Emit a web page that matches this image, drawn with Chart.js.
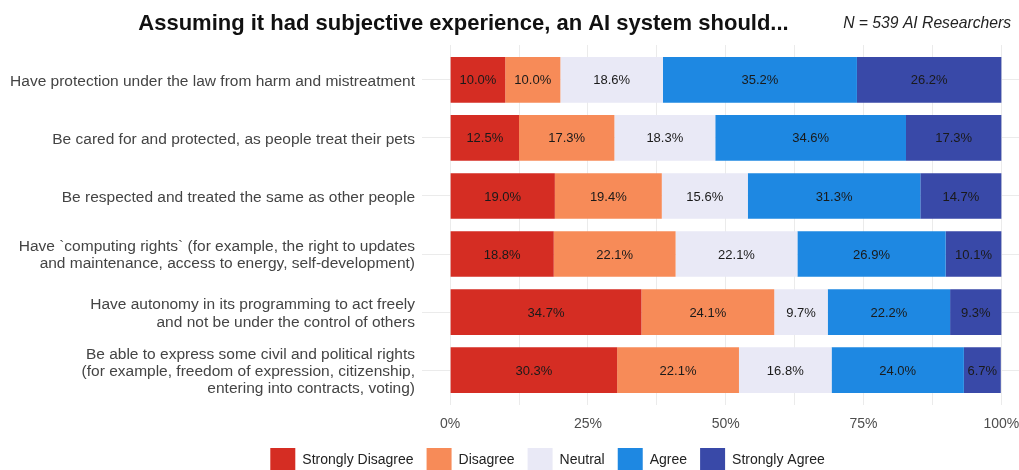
<!DOCTYPE html>
<html>
<head>
<meta charset="utf-8">
<script src="https://cdn.jsdelivr.net/npm/chart.js@4"></script>
<style>
html,body{margin:0;padding:0;background:#fff;}
#wrap{width:1019px;height:470px;position:relative;}
</style>
</head>
<body>
<div id="wrap"><canvas id="c" width="1019" height="470"></canvas></div>
<script>
const titleText = 'Assuming it had subjective experience, an AI system should...';
const noteText = 'N = 539 AI Researchers';
const categories = [
  ['Have protection under the law from harm and mistreatment'],
  ['Be cared for and protected, as people treat their pets'],
  ['Be respected and treated the same as other people'],
  ['Have `computing rights` (for example, the right to updates', 'and maintenance, access to energy, self-development)'],
  ['Have autonomy in its programming to act freely', 'and not be under the control of others'],
  ['Be able to express some civil and political rights', '(for example, freedom of expression, citizenship,', 'entering into contracts, voting)']
];
const seriesNames = ['Strongly Disagree', 'Disagree', 'Neutral', 'Agree', 'Strongly Agree'];
const seriesColors = ['#d52d23', '#f78b58', '#e9e9f6', '#1e88e2', '#3949a8'];
const stronglyDisagree = [10.0, 12.5, 19.0, 18.8, 34.7, 30.3];
const disagree         = [10.0, 17.3, 19.4, 22.1, 24.1, 22.1];
const neutral          = [18.6, 18.3, 15.6, 22.1, 9.7, 16.8];
const agree            = [35.2, 34.6, 31.3, 26.9, 22.2, 24.0];
const stronglyAgree    = [26.2, 17.3, 14.7, 10.1, 9.3, 6.7];
const xTickValues = [0, 12.5, 25, 37.5, 50, 62.5, 75, 87.5, 100];
const xLabelValues = [0, 25, 50, 75, 100];

const seriesValues = [stronglyDisagree, disagree, neutral, agree, stronglyAgree];
const FONT = "'Liberation Sans', Arial, sans-serif";

const datasets = seriesNames.map((name, s) => ({
  label: name,
  data: seriesValues[s].map((v, i) => ({ x: v, y: i })),
  backgroundColor: seriesColors[s],
  borderWidth: 0,
  barPercentage: 0.785,
  categoryPercentage: 1.0
}));

const shiftPlugin = {
  id: 'shift',
  afterLayout(chart) {
    const W = chart.width;
    const t = chart.titleBlock;
    if (t) { const c = 463.5; t.left = 2 * c - W; t.right = W; }
    const l = chart.legend;
    if (l) {
      const c = 547.5;
      const h = l.bottom - l.top;
      l.left = 2 * c - W; l.right = W;
      l.top = 435; l.bottom = 435 + h;
    }
  }
};

const notePlugin = {
  id: 'note',
  afterDraw(chart) {
    const ctx = chart.ctx;
    ctx.save();
    ctx.font = "italic 15.7px " + FONT;
    ctx.fillStyle = '#222';
    ctx.textAlign = 'right';
    ctx.textBaseline = 'middle';
    ctx.fillText(noteText, 1011, 24);
    ctx.restore();
  }
};

const valueLabelPlugin = {
  id: 'valueLabels',
  afterDatasetsDraw(chart) {
    const ctx = chart.ctx;
    ctx.save();
    ctx.font = "13px " + FONT;
    ctx.fillStyle = '#1a1a1a';
    ctx.textAlign = 'center';
    ctx.textBaseline = 'middle';
    chart.data.datasets.forEach((ds, di) => {
      const meta = chart.getDatasetMeta(di);
      meta.data.forEach((el, i) => {
        const v = seriesValues[di][i];
        ctx.fillText(v.toFixed(1) + '%', (el.x + el.base) / 2, el.y + 1);
      });
    });
    ctx.restore();
  }
};

new Chart(document.getElementById('c'), {
  type: 'bar',
  data: { datasets },
  plugins: [shiftPlugin, notePlugin, valueLabelPlugin],
  options: {
    indexAxis: 'y',
    responsive: false,
    animation: false,
    devicePixelRatio: 1,
    layout: { padding: { left: 0, right: 0, top: 0, bottom: -11 } },
    plugins: {
      title: {
        display: true,
        text: titleText,
        color: '#111',
        font: { family: FONT, size: 22, weight: 'bold', lineHeight: 1.2 },
        padding: { top: 10.5, bottom: 8.1 }
      },
      legend: {
        position: 'bottom',
        labels: {
          boxWidth: 25,
          boxHeight: 25,
          padding: 13,
          color: '#222',
          font: { family: FONT, size: 14 }
        }
      },
      tooltip: { enabled: false }
    },
    scales: {
      x: {
        type: 'linear',
        stacked: true,
        min: -5.1,
        max: 103.2,
        afterBuildTicks(scale) { scale.ticks = xTickValues.map(v => ({ value: v })); },
        afterFit(scale) { scale.height = 28; scale.paddingLeft = 0; scale.paddingRight = 0; },
        ticks: {
          autoSkip: false,
          maxRotation: 0,
          padding: 11,
          color: '#4d4d4d',
          font: { family: FONT, size: 14 },
          callback: (v) => xLabelValues.includes(v) ? v + '%' : ''
        },
        grid: { color: '#ebebeb', lineWidth: 1, drawTicks: false },
        border: { display: false }
      },
      y: {
        type: 'linear',
        stacked: true,
        reverse: true,
        offset: false,
        min: -0.6,
        max: 5.6,
        afterBuildTicks(scale) { scale.ticks = categories.map((c, i) => ({ value: i })); },
        afterFit(scale) { scale.width = 422; },
        ticks: {
          autoSkip: false,
          padding: 7,
          labelOffset: 1.5,
          color: '#444',
          font: { family: FONT, size: 15.5, lineHeight: 1.12 },
          callback: (v) => categories[v]
        },
        grid: { color: '#ebebeb', lineWidth: 1, drawTicks: false, offset: false },
        border: { display: false }
      }
    }
  }
});
</script>
</body>
</html>
